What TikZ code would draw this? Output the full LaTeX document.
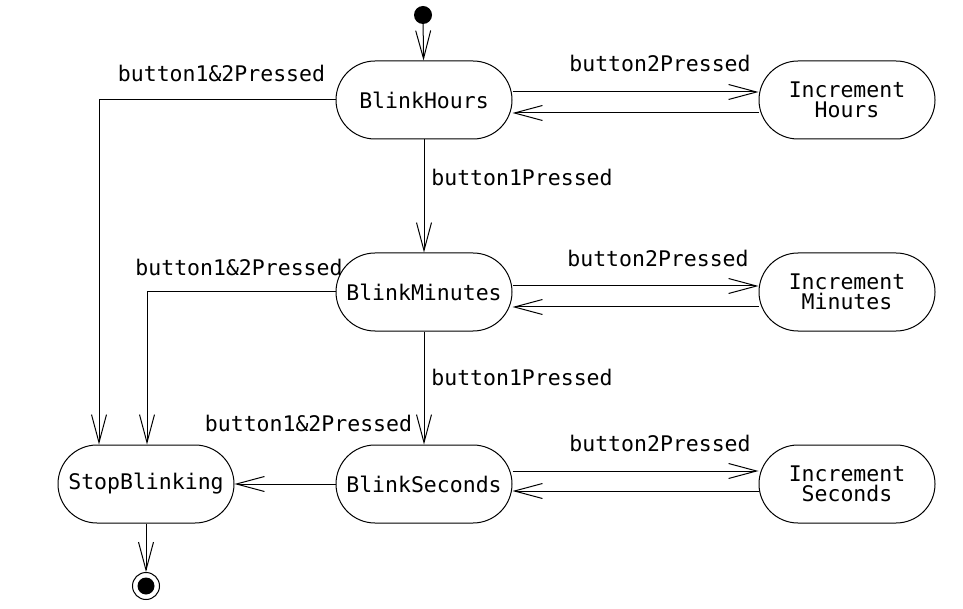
\documentclass[tikz,border=0pt]{standalone}
\usepackage{fontspec}
\setmonofont{DejaVu Sans Mono}
\usetikzlibrary{arrows.meta}
\tikzset{
  state/.style={draw, line width=1pt, rounded corners=39pt, minimum width=176pt, minimum height=78pt, inner sep=0pt, align=center, font=\ttfamily\fontsize{21.5}{19.5}\selectfont},
  lbl/.style={font=\ttfamily\fontsize{21.5}{19.5}\selectfont, inner sep=0pt},
  tr/.style={line width=1pt, -{Straight Barb[length=28pt, width=15pt, line width=1pt]}},
}
\begin{document}
\begin{tikzpicture}[x=1pt, y=-1pt]
\useasboundingbox (0,0) rectangle (963,609);
\node[circle, fill=black, inner sep=0pt, minimum size=18pt] (init) at (423,15) {};
\node[state] (bh) at (424,100) {BlinkHours};
\node[state] (ih) at (847,100) {Increment\\Hours};
\node[state] (bm) at (424,292) {BlinkMinutes};
\node[state] (im) at (847,292) {Increment\\Minutes};
\node[state] (bs) at (424,484) {BlinkSeconds};
\node[state] (is) at (847,484) {Increment\\Seconds};
\node[state] (sb) at (146,484) {StopBlinking};
\node[circle, draw, line width=1pt, inner sep=0pt, minimum size=27pt] (fin) at (146,586) {};
\node[circle, fill=black, inner sep=0pt, minimum size=17pt] at (fin) {};

\draw[tr] (init) -- (bh);
\draw[tr] ([yshift=8pt]bh.east) -- ([yshift=8pt]ih.west);
\draw[tr] ([yshift=-13pt]ih.west) -- ([yshift=-13pt]bh.east);
\draw[tr] ([yshift=6pt]bm.east) -- ([yshift=6pt]im.west);
\draw[tr] ([yshift=-15pt]im.west) -- ([yshift=-15pt]bm.east);
\draw[tr] ([yshift=13pt]bs.east) -- ([yshift=13pt]is.west);
\draw[tr] ([yshift=-7pt]is.west) -- ([yshift=-7pt]bs.east);
\draw[tr] (bh) -- (bm);
\draw[tr] (bm) -- (bs);
\draw[tr] (bs) -- (sb);
\draw[tr] (sb) -- (fin);
\coordinate (c1) at (99,100);
\coordinate (c2) at (147,292);
\draw[tr] (bh.west) -- (c1) -- (c1 |- sb.north);
\draw[tr] (bm.west) -- (c2) -- (c2 |- sb.north);

\node[lbl] (l1) at (221.5,73) {button1\&2Pressed};
\node[lbl] (l2) at (660,63) {button2Pressed};
\node[lbl] (l3) at (522,177) {button1Pressed};
\node[lbl] (l4) at (239,267) {button1\&2Pressed};
\node[lbl] (l5) at (658,258) {button2Pressed};
\node[lbl] (l6) at (522,377) {button1Pressed};
\node[lbl] (l7) at (308.5,423) {button1\&2Pressed};
\node[lbl] (l8) at (660,443) {button2Pressed};
\end{tikzpicture}
\end{document}
